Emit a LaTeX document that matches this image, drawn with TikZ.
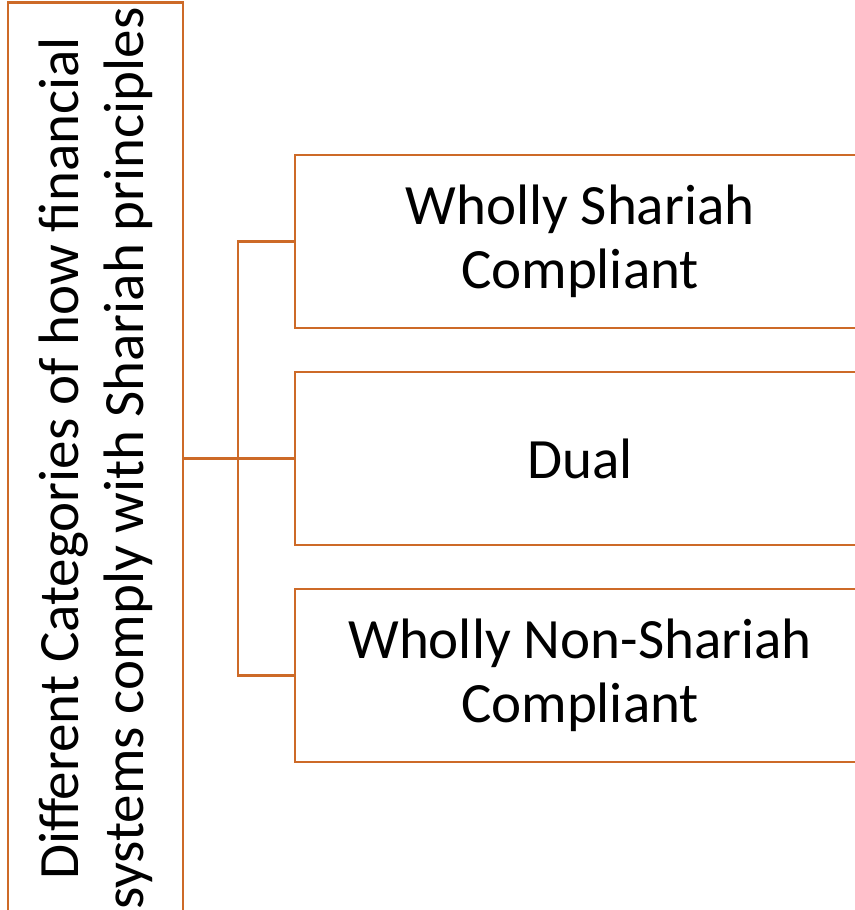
\documentclass[tikz,border=0pt]{standalone}
\usepackage{fontspec}
\setmainfont{Carlito}
\usetikzlibrary{positioning}
\definecolor{catorange}{RGB}{205,106,40}

\begin{document}
\begin{tikzpicture}[x=1pt, y=-1pt, node distance=41.5pt,
    catbox/.style={rectangle, draw=catorange, line width=2.5pt, minimum width=570pt,
                minimum height=173pt, inner sep=0pt, align=center,
                font=\fontsize{57}{64}\selectfont},
    catline/.style={draw=catorange, line width=2.5pt}]
    \useasboundingbox (0,0) rectangle (854,910);
    \node[catbox] (whole) at (580,241.5) {Wholly Shariah\\Compliant};
    \node[catbox] (dual) [below=of whole] {Dual};
    \node[catbox] (non) [below=of dual] {Wholly Non-Shariah\\Compliant};
    \node[catbox, rotate=90, minimum width=912pt, minimum height=175pt,
          font=\fontsize{57}{65}\selectfont] (cat) at (95.5,458.5)
        {Different Categories of how financial\\systems comply with Shariah principles};
    \draw[catline] (cat.south) -- (dual.west);
    \draw[catline] (whole.west) -- +(-56pt,0) |- (non.west);
\end{tikzpicture}
\end{document}
